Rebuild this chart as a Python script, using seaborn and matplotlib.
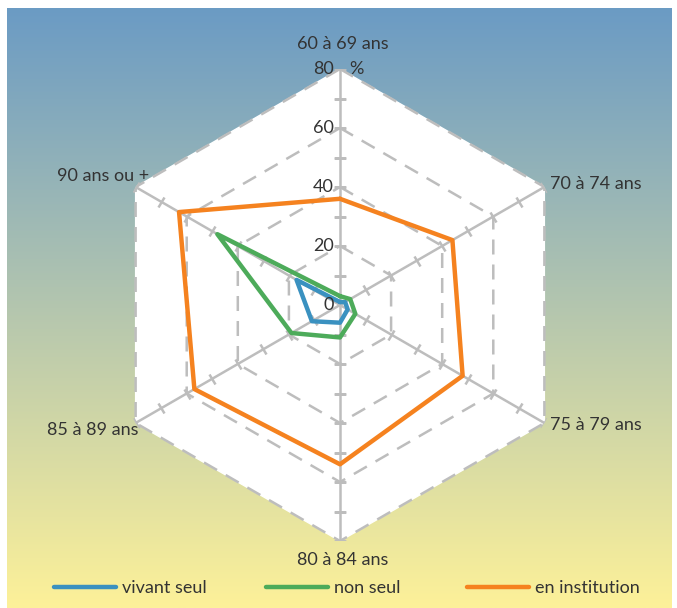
import numpy as np
import pandas as pd
import matplotlib
matplotlib.use("Agg")
import matplotlib.pyplot as plt
from matplotlib.lines import Line2D
from matplotlib.markers import MarkerStyle
from matplotlib.transforms import Affine2D
import seaborn as sns

categories = ["60 à 69 ans", "70 à 74 ans", "75 à 79 ans", "80 à 84 ans", "85 à 89 ans", "90 ans ou +"]
vivant_seul = [1, 2, 3, 6, 11, 17]
non_seul = [3, 4, 6, 11, 19, 48]
en_institution = [36, 44, 48, 54, 57, 63]
series_names = ["vivant seul", "non seul", "en institution"]
series_values = [vivant_seul, non_seul, en_institution]
series_colors = ["#3a91c0", "#4dab5a", "#f5821f"]
r_ticks = [0, 20, 40, 60, 80]
r_max = 80

sns.set_style("white")
plt.rcParams["font.family"] = ["Lato", "DejaVu Sans"]
TXT = "#333333"
FS = 13

W, H = 677, 608
fig = plt.figure(figsize=(W / 100, H / 100), dpi=100)

# gradient background
bg = fig.add_axes([7 / W, 0, (672 - 7) / W, (H - 8) / H], zorder=0)
top = np.array([107, 155, 196]) / 255
bot = np.array([253, 241, 153]) / 255
t = np.linspace(0, 1, 256)[:, None]
grad = (top[None, :] * (1 - t) + bot[None, :] * t)[:, None, :]
bg.imshow(grad, aspect="auto", extent=[0, 1, 0, 1])
bg.set_axis_off()

# radar axes
cx, cy, R = 340, 305, 236
ax = fig.add_axes([(cx - R) / W, (H - cy - R) / H, 2 * R / W, 2 * R / H],
                  projection="polar", zorder=1)
ax.set_facecolor("none")
ax.set_theta_offset(np.pi / 2)
ax.set_theta_direction(-1)
ax.set_ylim(0, r_max)
ax.grid(False)
ax.spines["polar"].set_visible(False)

n = len(categories)
theta = np.linspace(0, 2 * np.pi, n, endpoint=False)
theta_c = np.append(theta, theta[0])

GRID = "#bdbdbd"
ax.fill(theta_c, [r_max] * (n + 1), color="white", zorder=0)
for lev in r_ticks[1:]:
    ax.plot(theta_c, [lev] * (n + 1), color=GRID, lw=1.8, ls=(0, (6, 4)), zorder=1)
for i, th in enumerate(theta):
    ax.plot([th, th], [0, r_max], color=GRID, lw=1.8, zorder=1)
    ang = -np.degrees(th)
    mk = MarkerStyle("_", transform=Affine2D().rotate_deg(ang))
    ax.plot([th] * 8, list(range(10, 90, 10)), ls="none", marker=mk,
            markersize=8, markeredgewidth=1.8, color=GRID, zorder=1)

for name, vals, col in zip(series_names, series_values, series_colors):
    df = pd.DataFrame({"theta": theta_c, "r": list(vals) + [vals[0]]})
    sns.lineplot(data=df, x="theta", y="r", sort=False, estimator=None,
                 color=col, lw=3.2, ax=ax, zorder=3)
ax.set_xlabel("")
ax.set_ylabel("")
ax.set_xticks([])
ax.set_yticks([])
ax.set_ylim(0, r_max)

# radial tick labels
for v in r_ticks:
    ax.annotate(str(v), xy=(0, v), xytext=(-6, 0), textcoords="offset pixels",
                ha="right", va="center", fontsize=FS, color=TXT, zorder=4)
ax.annotate("%", xy=(0, r_max), xytext=(9, 0), textcoords="offset pixels",
            ha="left", va="center", fontsize=FS, color=TXT)

# category labels
label_pos = [((3, 25), "center", "center"),
             ((6, 3), "left", "center"),
             ((6, -2), "left", "center"),
             ((3, -19), "center", "center"),
             ((3, -7), "right", "center"),
             ((14, 11), "right", "center")]
for th, lab, (off, ha, va) in zip(theta, categories, label_pos):
    ax.annotate(lab, xy=(th, r_max), xytext=off, textcoords="offset pixels",
                ha=ha, va=va, fontsize=FS, color=TXT, annotation_clip=False)

# legend: three fixed-position entries
legend_x = [54, 266, 467]
for name, col, x in zip(series_names, series_colors, legend_x):
    h = Line2D([], [], color=col, lw=3.2, solid_capstyle="round")
    fig.legend([h], [name], loc="center left", bbox_to_anchor=(x / W, 20 / H),
               frameon=False, fontsize=FS, handlelength=3.45, handletextpad=0.3,
               borderpad=0, borderaxespad=0, labelcolor=TXT)

fig.savefig("out.png", dpi=100)
